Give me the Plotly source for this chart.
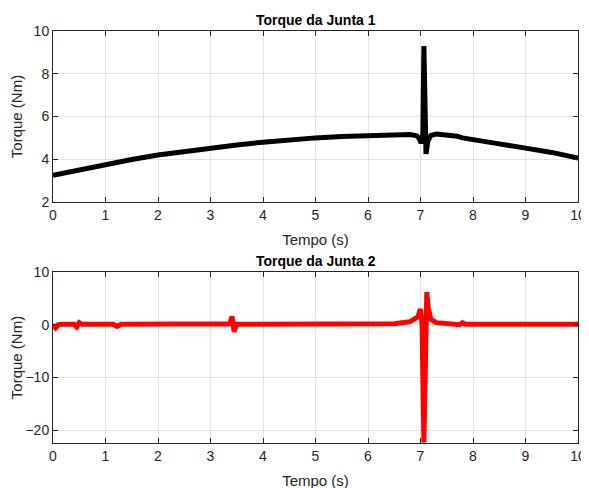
import plotly.graph_objects as go

# Joint 1 torque
t1 = [0, 0.5, 1.0, 1.5, 2.0, 2.5, 3.0, 3.5, 4.0, 4.5, 5.0, 5.5, 6.0, 6.5, 6.8, 6.93, 6.98, 7.01,
      7.045, 7.065, 7.085, 7.105, 7.14, 7.2, 7.3, 7.5, 7.7, 7.8, 8.0, 8.5, 9.0, 9.5, 10]
tau1 = [3.25, 3.5, 3.76, 3.99, 4.2, 4.37, 4.52, 4.67, 4.8, 4.92, 5.0, 5.06, 5.1, 5.14, 5.16, 5.1, 4.95, 4.75,
        5.2, 9.3, 5.6, 4.25, 4.85, 5.12, 5.18, 5.15, 5.08, 5.0, 4.93, 4.72, 4.52, 4.32, 4.05]

# Joint 2 torque
t2 = [0, 0.05, 0.1, 0.15, 0.4, 0.45, 0.5, 0.55, 1.15, 1.22, 1.3, 1.5, 1.55, 1.6, 1.8, 1.85, 1.9,
      2.8, 2.85, 2.9, 3.3, 3.37, 3.41, 3.45, 3.5, 4.6, 4.65, 4.7, 5.4, 5.45, 5.5, 5.9, 5.95, 6.0,
      6.5, 6.8, 6.95, 7.0, 7.03, 7.065, 7.08, 7.1, 7.12, 7.15, 7.2, 7.3, 7.5, 7.75, 7.8, 7.85, 8.7, 8.75, 8.8, 10]
tau2 = [0.0, -0.6, 0.0, 0.1, 0.1, -0.4, 0.4, 0.1, 0.1, -0.3, 0.1, 0.1, 0.3, 0.1, 0.1, 0.3, 0.1,
        0.1, 0.3, 0.1, 0.1, 0.2, 1.6, -1.3, 0.1, 0.1, 0.3, 0.1, 0.1, 0.3, 0.1, 0.1, 0.3, 0.1,
        0.2, 0.6, 1.5, 3.0, 0.0, -22.3, -10.0, 3.0, 6.2, 3.0, 1.0, 0.4, 0.2, 0.0, 0.4, 0.1, 0.1, 0.2, 0.1, 0.1]

xticks = [0, 1, 2, 3, 4, 5, 6, 7, 8, 9, 10]
yticks1 = [2, 4, 6, 8, 10]
yticks2 = [-20, -10, 0, 10]

FONT = "Liberation Sans, Arial, sans-serif"
AX = "#262626"
GRID = "#e3e3e3"

fig = go.Figure()
fig.add_trace(go.Scatter(x=t1, y=tau1, mode="lines", line=dict(color="black", width=5),
                         xaxis="x", yaxis="y", showlegend=False))
fig.add_trace(go.Scatter(x=t2, y=tau2, mode="lines", line=dict(color="#ff0000", width=5),
                         xaxis="x2", yaxis="y2", showlegend=False))

W, H = 589, 488
OFF = 8  # default body margin of the page
xd = [(53 - OFF) / W, (578 - OFF) / W]
yd1 = [(H - (202 - OFF)) / H, (H - (31 - OFF)) / H]
yd2 = [(H - (443 - OFF)) / H, (H - (272 - OFF)) / H]

common_x = dict(range=[0, 10], tickvals=xticks, showgrid=True, gridcolor=GRID, gridwidth=1,
                showline=True, linecolor=AX, linewidth=1, mirror="ticks", ticks="inside",
                ticklen=5, tickcolor=AX, zeroline=False, automargin=False,
                tickfont=dict(family=FONT, size=14, color=AX), domain=xd)
common_y = dict(showgrid=True, gridcolor=GRID, gridwidth=1, showline=True, linecolor=AX,
                linewidth=1, mirror="ticks", ticks="inside", ticklen=5, tickcolor=AX,
                zeroline=False, automargin=False, tickfont=dict(family=FONT, size=14, color=AX))

fig.update_layout(
    width=W, height=H, margin=dict(l=0, r=0, t=0, b=0),
    paper_bgcolor="white", plot_bgcolor="white",
    xaxis=dict(**common_x, anchor="y",
               title=dict(text="Tempo (s)", font=dict(family=FONT, size=15, color=AX), standoff=12)),
    yaxis=dict(**common_y, range=[2, 10], tickvals=yticks1, domain=yd1, anchor="x",
               title=dict(text="Torque (Nm)", font=dict(family=FONT, size=15, color=AX), standoff=8)),
    xaxis2=dict(**common_x, anchor="y2",
                title=dict(text="Tempo (s)", font=dict(family=FONT, size=15, color=AX), standoff=12)),
    yaxis2=dict(**common_y, range=[-22.4, 10], tickvals=yticks2, domain=yd2, anchor="x2",
                title=dict(text="Torque (Nm)", font=dict(family=FONT, size=15, color=AX), standoff=8)),
    annotations=[
        dict(text="<b>Torque da Junta 1</b>", x=(xd[0] + xd[1]) / 2, y=yd1[1], xref="paper", yref="paper",
             xanchor="center", yanchor="bottom", yshift=1, showarrow=False,
             font=dict(family=FONT, size=14, color="black")),
        dict(text="<b>Torque da Junta 2</b>", x=(xd[0] + xd[1]) / 2, y=yd2[1], xref="paper", yref="paper",
             xanchor="center", yanchor="bottom", yshift=1, showarrow=False,
             font=dict(family=FONT, size=14, color="black")),
    ],
)

fig.write_html("out.html")
